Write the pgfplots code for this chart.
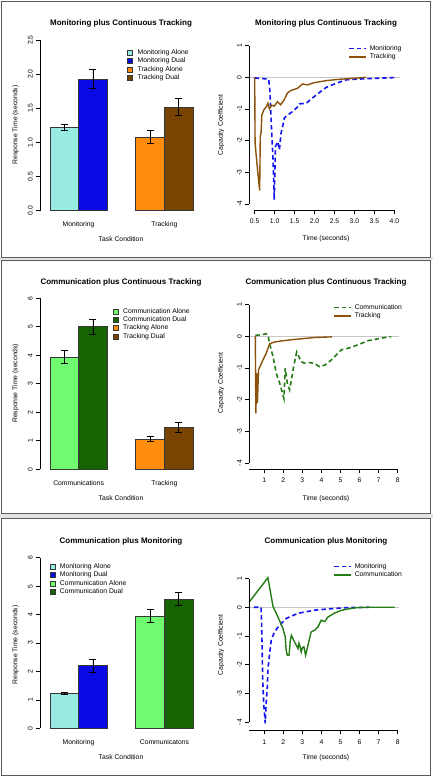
\documentclass[border=0pt]{standalone}
\usepackage{pgfplots}
\pgfplotsset{compat=1.18}
\usepackage{fontspec}
\setmainfont{Liberation Sans}
\definecolor{monA}{RGB}{152,235,226}
\definecolor{monD}{RGB}{10,10,228}
\definecolor{trkA}{RGB}{255,140,10}
\definecolor{trkD}{RGB}{120,68,2}
\definecolor{comA}{RGB}{112,250,112}
\definecolor{comD}{RGB}{22,100,4}
\definecolor{trkL}{RGB}{140,82,12}
\definecolor{comL}{RGB}{36,125,20}
\definecolor{monL}{RGB}{20,20,240}
\definecolor{framec}{RGB}{90,90,90}
\definecolor{baredge}{RGB}{55,55,55}
\newcommand\bodyfont{\fontsize{6.8}{8}\selectfont}
\newcommand\titlefont{\fontsize{8}{9.6}\selectfont\bfseries}
\pgfplotsset{
  rbase/.style={scale only axis, clip=false, axis lines*=left, axis line style={draw=none},
    tick align=outside, major tick length=3.8pt, tick style={black, line width=0.6pt},
    ticklabel style={font=\bodyfont}, label style={font=\bodyfont},
    title style={font=\titlefont, anchor=center, yshift=-6pt},
    xlabel style={anchor=center}, ylabel style={anchor=center},
    yticklabel style={rotate=90, anchor=south}},
  barbase/.style={rbase, xmin=0.65, xmax=6.2, ymin=0, width=158.73pt,
    xtick={2,5}, xtick style={draw=none}, xticklabel style={yshift=-3.5pt},
    legend image code/.code={\draw[##1, draw=baredge, line width=0.5pt] (0pt,-2.5pt) rectangle (5pt,2.5pt);},
    legend style={draw=none, fill=none, inner sep=0pt, font=\bodyfont, anchor=north west, column sep=4pt,
      nodes={inner sep=0.8pt, text height=5.2pt, text depth=1.6pt}},
    legend cell align=left},
  linebase/.style={rbase, xticklabel style={yshift=-1.5pt},
    legend image code/.code={\draw[##1] (0pt,0pt) -- (16.7pt,0pt);},
    legend style={draw=none, fill=none, inner sep=0pt, font=\bodyfont, anchor=north west, column sep=2pt,
      nodes={inner sep=0.8pt, text height=5.2pt, text depth=1.6pt}},
    legend cell align=left},
  rbar/.style={ybar, bar shift=0pt, bar width=1, fill=#1, draw=baredge, line width=0.8pt,
    error bars/.cd, y dir=both, y explicit, error bar style={line width=0.8pt, black},
    error mark options={line width=0.8pt, black, mark size=3.5pt, rotate=90}},
  dashl/.style={line width=1.6pt, dash pattern=on 4.5pt off 3pt, #1},
  soll/.style={line width=1.4pt, #1},
  zerol/.style={line width=0.8pt, gray!45}
}
\begin{document}
\begin{tikzpicture}
\useasboundingbox (0,0) rectangle (433pt,776pt);
\fill[white] (0,0) rectangle (433pt,776pt);
\fill[gray!22] (0pt,515.5pt) rectangle (433pt,519pt);
\fill[gray!22] (0pt,258pt) rectangle (433pt,262.5pt);
% ---------- Panel 1 left ----------
\begin{axis}[barbase, at={(40pt,565.3pt)}, anchor=south west, height=170.7pt, ymax=2.5,
  ytick={0,0.5,1,1.5,2,2.5}, yticklabels={0.0,0.5,1.0,1.5,2.0,2.5},
  xticklabels={Monitoring,Tracking},
  title={Monitoring plus Continuous Tracking}, title style={at={(axis description cs:0.5103,1.0979)}},
  xlabel={Task Condition}, xlabel style={at={(axis description cs:0.5103,-0.1658)}},
  ylabel={Response Time (seconds)}, ylabel style={at={(axis description cs:-0.1531,0.502)}},
  legend style={at={(axis description cs:0.5494,0.9525)}}]
\addplot[rbar=monA] coordinates {(1.5,1.22) +- (0,0.05)};
\addlegendentry{Monitoring Alone}
\addplot[rbar=monD] coordinates {(2.5,1.93) +- (0,0.135)};
\addlegendentry{Monitoring Dual}
\addplot[rbar=trkA] coordinates {(4.5,1.08) +- (0,0.095)};
\addlegendentry{Tracking Alone}
\addplot[rbar=trkD] coordinates {(5.5,1.52) +- (0,0.12)};
\addlegendentry{Tracking Dual}
\draw[line width=0.6pt] (axis cs:0.65,0) -- (axis cs:0.65,2.5);
\end{axis}
% ---------- Panel 1 right ----------
\begin{axis}[linebase, at={(249.1pt,565.7pt)}, anchor=south west, width=150.8pt, height=171pt,
  xmin=0.36, xmax=4.14, ymin=-4.2, ymax=1.2,
  xtick={0.5,1,1.5,2,2.5,3,3.5,4}, xticklabels={0.5,1.0,1.5,2.0,2.5,3.0,3.5,4.0},
  ytick={-4,-3,-2,-1,0,1}, yticklabels={-4,-3,-2,-1,0,1},
  title={Monitoring plus Continuous Tracking}, title style={at={(axis description cs:0.51,1.0936)}},
  xlabel={Time (seconds)}, xlabel style={at={(axis description cs:0.51,-0.1678)}},
  ylabel={Capacity Coefficient}, ylabel style={at={(axis description cs:-0.1863,0.4988)}},
  legend style={at={(axis description cs:0.659,0.972)}}]
\addplot[zerol, forget plot] coordinates {(0.36,0) (4.14,0)};
\addplot[dashl=monL] coordinates {(0.5,-0.02)(0.6,-0.03)(0.7,-0.04)(0.85,-0.06)(0.88,-0.4)(0.92,-1.56)(0.96,-2.6)(0.99,-3.87)(1.02,-2.19)(1.08,-2.03)(1.12,-2.29)(1.16,-1.77)(1.2,-1.56)(1.24,-1.29)(1.33,-1.19)(1.45,-1.08)(1.58,-0.93)(1.62,-0.84)(1.79,-0.82)(2.04,-0.56)(2.29,-0.32)(2.54,-0.19)(2.79,-0.08)(3.04,-0.06)(3.37,-0.04)(4.0,-0.01)};
\addlegendentry{Monitoring}
\addplot[soll=trkL] coordinates {(0.5,0)(0.51,-2.08)(0.57,-2.9)(0.625,-3.58)(0.64,-1.87)(0.66,-1.75)(0.68,-1.19)(0.73,-1.03)(0.79,-0.93)(0.83,-0.82)(0.87,-1.0)(0.92,-0.88)(0.99,-0.91)(1.07,-0.77)(1.15,-0.87)(1.24,-0.71)(1.32,-0.5)(1.4,-0.42)(1.57,-0.35)(1.7,-0.21)(1.82,-0.24)(1.99,-0.17)(2.32,-0.1)(2.66,-0.06)(3.0,-0.03)(3.29,0)};
\addlegendentry{Tracking}
\draw[line width=0.6pt] (axis cs:0.5,-4.2) -- (axis cs:4,-4.2);
\draw[line width=0.6pt] (axis cs:0.36,-4) -- (axis cs:0.36,1);
\end{axis}
% ---------- Panel 2 left ----------
\begin{axis}[barbase, at={(40pt,306.7pt)}, anchor=south west, height=171pt, ymax=6,
  ytick={0,1,2,3,4,5,6}, yticklabels={0,1,2,3,4,5,6},
  xticklabels={Communications,Tracking},
  title={Communication plus Continuous Tracking}, title style={at={(axis description cs:0.5103,1.0936)}},
  xlabel={Task Condition}, xlabel style={at={(axis description cs:0.5103,-0.1696)}},
  ylabel={Response Time (seconds)}, ylabel style={at={(axis description cs:-0.1531,0.503)}},
  legend style={at={(axis description cs:0.458,0.95)}}]
\addplot[rbar=comA] coordinates {(1.5,3.94) +- (0,0.22)};
\addlegendentry{Communication Alone}
\addplot[rbar=comD] coordinates {(2.5,5.0) +- (0,0.26)};
\addlegendentry{Communication Dual}
\addplot[rbar=trkA] coordinates {(4.5,1.06) +- (0,0.08)};
\addlegendentry{Tracking Alone}
\addplot[rbar=trkD] coordinates {(5.5,1.48) +- (0,0.17)};
\addlegendentry{Tracking Dual}
\draw[line width=0.6pt] (axis cs:0.65,0) -- (axis cs:0.65,6);
\end{axis}
% ---------- Panel 2 right ----------
\begin{axis}[linebase, at={(249.2pt,306.6pt)}, anchor=south west, width=150.2pt, height=171.2pt,
  xmin=0.21, xmax=8.09, ymin=-4.2, ymax=1.2,
  xtick={1,2,3,4,5,6,7,8}, xticklabels={1,2,3,4,5,6,7,8},
  ytick={-4,-3,-2,-1,0,1}, yticklabels={-4,-3,-2,-1,0,1},
  title={Communication plus Continuous Tracking}, title style={at={(axis description cs:0.511,1.0929)}},
  xlabel={Time (seconds)}, xlabel style={at={(axis description cs:0.511,-0.1688)}},
  ylabel={Capacity Coefficient}, ylabel style={at={(axis description cs:-0.1877,0.5047)}},
  legend style={at={(axis description cs:0.561,0.971)}}]
\addplot[zerol, forget plot] coordinates {(0.21,0) (8.09,0)};
\addplot[dashl=comL] coordinates {(0.53,0.03)(0.8,0.04)(1.1,0.08)(1.2,0.02)(1.28,-0.23)(1.46,-0.64)(1.63,-1.17)(1.81,-1.48)(2.03,-1.96)(2.1,-1.01)(2.21,-1.48)(2.33,-1.69)(2.47,-1.22)(2.54,-0.96)(2.7,-0.5)(2.94,-0.8)(3.1,-0.85)(3.38,-0.83)(3.64,-0.86)(3.9,-0.96)(4.17,-0.91)(4.52,-0.75)(5.04,-0.43)(5.39,-0.38)(5.92,-0.27)(6.44,-0.14)(7.14,-0.06)(7.66,-0.01)};
\addlegendentry{Communication}
\addplot[soll=trkL] coordinates {(0.53,0)(0.56,-2.43)(0.6,-1.17)(0.64,-2.11)(0.7,-1.06)(0.81,-0.91)(0.93,-0.75)(1.1,-0.54)(1.28,-0.24)(1.55,-0.18)(1.89,-0.15)(2.42,-0.11)(2.94,-0.08)(3.64,-0.04)(4.55,-0.02)};
\addlegendentry{Tracking}
\draw[line width=0.6pt] (axis cs:0.21,-4.2) -- (axis cs:8,-4.2);
\draw[line width=0.6pt] (axis cs:0.21,-4) -- (axis cs:0.21,1);
\end{axis}
% ---------- Panel 3 left ----------
\begin{axis}[barbase, at={(40pt,47.7pt)}, anchor=south west, height=170.6pt, ymax=6,
  ytick={0,1,2,3,4,5,6}, yticklabels={0,1,2,3,4,5,6},
  xticklabels={Monitoring,Communicatons},
  title={Communication plus Monitoring}, title style={at={(axis description cs:0.5103,1.098)}},
  xlabel={Task Condition}, xlabel style={at={(axis description cs:0.5103,-0.17)}},
  ylabel={Response Time (seconds)}, ylabel style={at={(axis description cs:-0.1531,0.488)}},
  legend style={at={(axis description cs:0.0592,0.974)}}]
\addplot[rbar=monA] coordinates {(1.5,1.22) +- (0,0.045)};
\addlegendentry{Monitoring Alone}
\addplot[rbar=monD] coordinates {(2.5,2.2) +- (0,0.23)};
\addlegendentry{Monitoring Dual}
\addplot[rbar=comA] coordinates {(4.5,3.94) +- (0,0.23)};
\addlegendentry{Communication Alone}
\addplot[rbar=comD] coordinates {(5.5,4.55) +- (0,0.23)};
\addlegendentry{Communication Dual}
\draw[line width=0.6pt] (axis cs:0.65,0) -- (axis cs:0.65,6);
\end{axis}
% ---------- Panel 3 right ----------
\begin{axis}[linebase, at={(249.2pt,45.3pt)}, anchor=south west, width=150.2pt, height=159.3pt,
  xmin=0.21, xmax=8.09, ymin=-4.3, ymax=1.25,
  xtick={1,2,3,4,5,6,7,8}, xticklabels={1,2,3,4,5,6,7,8},
  ytick={-4,-3,-2,-1,0,1}, yticklabels={-4,-3,-2,-1,0,1},
  title={Communication plus Monitoring}, title style={at={(axis description cs:0.511,1.1908)}},
  xlabel={Time (seconds)}, xlabel style={at={(axis description cs:0.511,-0.167)}},
  ylabel={Capacity Coefficient}, ylabel style={at={(axis description cs:-0.1877,0.538)}},
  legend style={at={(axis description cs:0.561,1.058)}}]
\addplot[zerol, forget plot] coordinates {(0.21,0) (8.09,0)};
\addplot[dashl=monL] coordinates {(0.45,0)(0.83,0)(0.86,-0.5)(0.92,-2.54)(0.97,-3.35)(1.05,-4.04)(1.1,-3.35)(1.16,-2.77)(1.19,-2.19)(1.28,-1.61)(1.37,-1.14)(1.54,-0.85)(1.81,-0.62)(2.15,-0.39)(2.77,-0.21)(3.64,-0.1)(4.52,-0.05)(5.39,-0.01)(6.5,0)};
\addlegendentry{Monitoring}
\addplot[soll=comL] coordinates {(0.21,0.18)(1.19,1.03)(1.46,0.03)(1.72,-0.34)(1.98,-0.74)(2.1,-1.03)(2.15,-1.5)(2.21,-1.67)(2.3,-1.67)(2.36,-1.2)(2.42,-0.98)(2.59,-1.21)(2.77,-1.44)(2.82,-1.25)(2.86,-1.33)(2.94,-1.56)(3.0,-1.4)(3.08,-1.38)(3.17,-1.67)(3.29,-1.33)(3.46,-0.86)(3.64,-0.8)(3.81,-0.69)(3.99,-0.45)(4.17,-0.5)(4.34,-0.34)(4.69,-0.2)(5.0,-0.12)(5.22,-0.08)(5.74,-0.02)(6.44,0)(7.84,0)};
\addlegendentry{Communication}
\draw[line width=0.6pt] (axis cs:0.21,-4.3) -- (axis cs:8,-4.3);
\draw[line width=0.6pt] (axis cs:0.21,-4) -- (axis cs:0.21,1);
\end{axis}
% ---------- frames ----------
\draw[framec, line width=0.9pt] (1.5pt,774.5pt) rectangle (430.5pt,519pt);
\draw[framec, line width=0.9pt] (1.5pt,515.5pt) rectangle (430.5pt,262.5pt);
\draw[framec, line width=0.9pt] (1.5pt,258pt) rectangle (430.5pt,1pt);
\end{tikzpicture}
\end{document}
